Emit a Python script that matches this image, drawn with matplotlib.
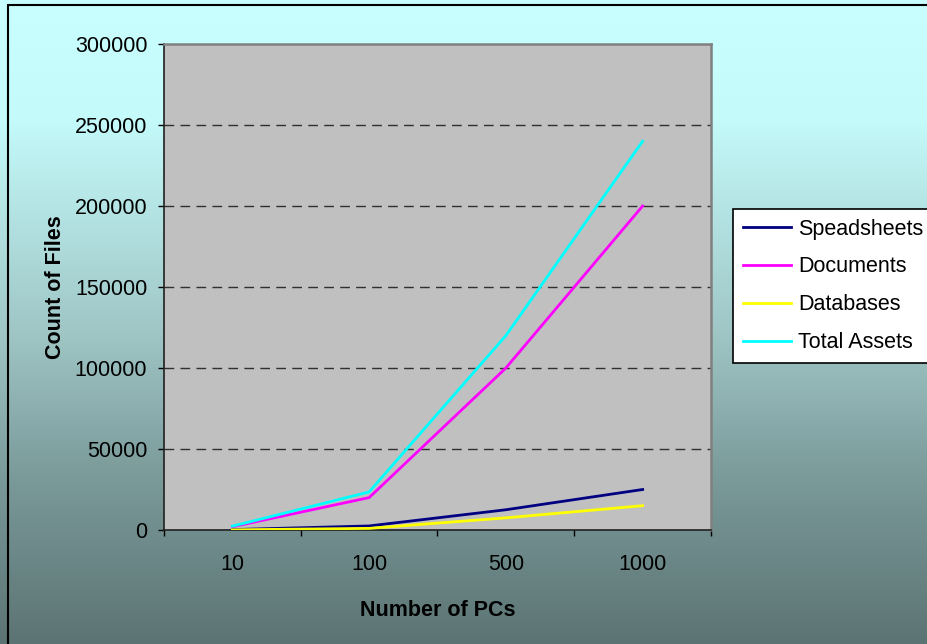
import numpy as np
import matplotlib
matplotlib.use('Agg')
import matplotlib.pyplot as plt
from matplotlib.lines import Line2D

plt.rcParams['font.family'] = ['Liberation Sans', 'DejaVu Sans']

# category axis: number of PCs
pcs = ['10', '100', '500', '1000']

# file counts
spreadsheets = [250, 2500, 12500, 25000]
documents = [2000, 20000, 100000, 200000]
databases = [100, 1000, 7500, 15000]
total_assets = [2350, 23500, 120000, 240000]

W, H = 928, 644
fig = plt.figure(figsize=(W / 100, H / 100), dpi=100)

# background gradient (light cyan at top -> dark slate at bottom)
bg = fig.add_axes([0, 0, 1, 1], zorder=-10)
rows = np.arange(H)
stops_y = [0, 120, 330, 480, 644]
stops_c = np.array([[201, 255, 255], [196, 250, 250], [160, 198, 198],
                    [122, 153, 153], [92, 115, 115]]) / 255.0
grad = np.stack([np.interp(rows, stops_y, stops_c[:, k]) for k in range(3)], axis=-1)
bg.imshow(grad[:, None, :], aspect='auto', extent=(0, W, H, 0), interpolation='bilinear')
bg.set_xlim(0, W)
bg.set_ylim(H, 0)
bg.axis('off')

# chart frame: only the left and top edges fall inside the picture
fig.add_artist(Line2D([8.5 / W, 8.5 / W, 1.0], [0.0, 1 - 4.5 / H, 1 - 4.5 / H],
                      transform=fig.transFigure, color='black', lw=1.5,
                      solid_capstyle='butt', solid_joinstyle='miter'))

# plot area
ax = fig.add_axes([164 / W, 1 - 530 / H, (711 - 164) / W, (530 - 44) / H], zorder=1)
ax.set_facecolor('#c0c0c0')

x = np.arange(len(pcs)) + 0.5
ax.plot(x, spreadsheets, color='#000080', lw=2, label='Speadsheets', zorder=3)
ax.plot(x, documents, color='#ff00ff', lw=2, label='Documents', zorder=3)
ax.plot(x, databases, color='#ffff00', lw=2, label='Databases', zorder=3)
ax.plot(x, total_assets, color='#00ffff', lw=2, label='Total Assets', zorder=3)

ax.set_xlim(0, len(pcs))
ax.set_ylim(0, 300000)
ax.set_yticks(np.arange(0, 300001, 50000))
ax.set_yticklabels([str(v) for v in range(0, 300001, 50000)])
ax.set_xticks(np.arange(len(pcs) + 1))
ax.set_xticklabels([])
ax.set_xticks(x, minor=True)
ax.set_xticklabels(pcs, minor=True)

ax.tick_params(axis='y', direction='out', length=4, width=1, color='black',
               labelsize=15.5, pad=8)
ax.tick_params(axis='x', which='major', direction='out', length=4, width=1, color='black')
ax.tick_params(axis='x', which='minor', length=0, labelsize=15.5, pad=17)

for v in range(50000, 300000, 50000):
    ax.axhline(v, color='#303030', lw=1, ls=(0, (7, 4.5)), zorder=2)

for s in ['left', 'bottom']:
    ax.spines[s].set_color('#202020')
    ax.spines[s].set_linewidth(1.2)
for s in ['top', 'right']:
    ax.spines[s].set_color('#808080')
    ax.spines[s].set_linewidth(1.8)

ax.set_xlabel('Number of PCs', fontsize=15.5, fontweight='bold', labelpad=18)
ax.set_ylabel('Count of Files', fontsize=15.5, fontweight='bold', labelpad=6)

leg = ax.legend(loc='upper left', bbox_to_anchor=(733 / W, 1 - 362 / H, 300 / W, 153 / H),
                bbox_transform=fig.transFigure, mode='expand', borderaxespad=0,
                fontsize=15.5, frameon=True, fancybox=False, framealpha=1,
                edgecolor='black', borderpad=0.45, labelspacing=0.78,
                handlelength=2.25, handletextpad=0.33)
leg.get_frame().set_linewidth(1.2)

fig.savefig('out.png', dpi=100)
